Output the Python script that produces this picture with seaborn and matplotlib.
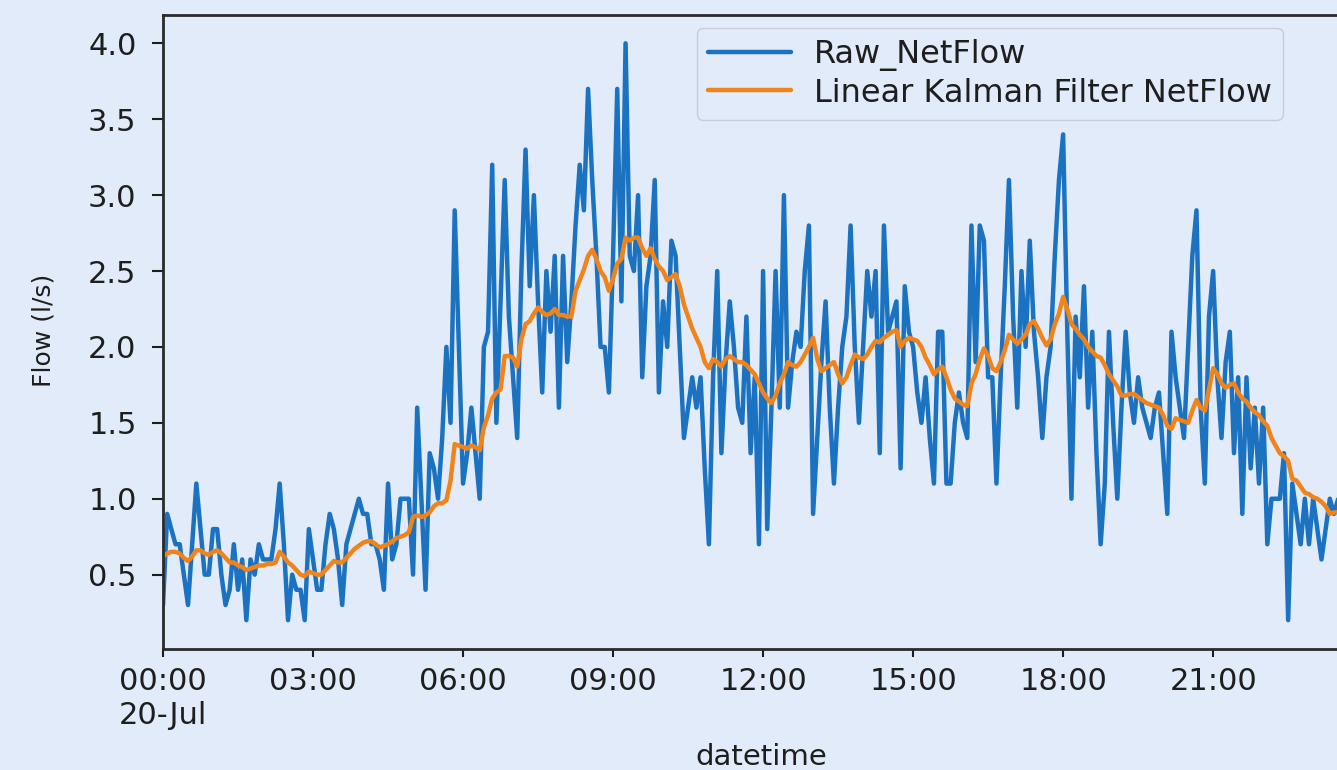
import matplotlib
matplotlib.use("Agg")
import matplotlib.pyplot as plt
import matplotlib.dates as mdates
import matplotlib.ticker as mticker
import numpy as np
import pandas as pd
import seaborn as sns

# ---------------- data (5-minute samples, 20 Jul) ----------------
raw_netflow = [
    0.3, 0.9, 0.8, 0.7, 0.7, 0.5, 0.3, 0.7, 1.1, 0.8, 0.5, 0.5,
    0.8, 0.8, 0.5, 0.3, 0.4, 0.7, 0.4, 0.6, 0.2, 0.6, 0.5, 0.7,
    0.6, 0.6, 0.6, 0.8, 1.1, 0.7, 0.2, 0.5, 0.4, 0.4, 0.2, 0.8,
    0.6, 0.4, 0.4, 0.7, 0.9, 0.8, 0.6, 0.3, 0.7, 0.8, 0.9, 1.0,
    0.9, 0.9, 0.7, 0.7, 0.6, 0.4, 1.1, 0.6, 0.7, 1.0, 1.0, 1.0,
    0.5, 1.6, 1.0, 0.4, 1.3, 1.2, 1.0, 1.4, 2.0, 1.5, 2.9, 2.0,
    1.1, 1.3, 1.6, 1.3, 1.0, 2.0, 2.1, 3.2, 1.5, 2.3, 3.1, 2.2,
    1.8, 1.4, 2.5, 3.3, 2.4, 3.0, 2.3, 1.7, 2.5, 2.1, 2.6, 1.6,
    2.6, 1.9, 2.3, 2.8, 3.2, 2.9, 3.7, 3.1, 2.6, 2.0, 2.0, 1.7,
    2.6, 3.7, 2.3, 4.0, 2.6, 2.5, 3.0, 1.8, 2.4, 2.6, 3.1, 1.7,
    2.3, 2.0, 2.7, 2.6, 2.0, 1.4, 1.6, 1.8, 1.6, 1.8, 1.2, 0.7,
    1.8, 2.5, 1.3, 1.9, 2.3, 2.0, 1.6, 1.5, 2.2, 1.3, 1.8, 0.7,
    2.5, 0.8, 1.6, 2.5, 1.6, 3.0, 1.6, 1.9, 2.1, 2.0, 2.5, 2.8,
    0.9, 1.4, 1.9, 2.3, 1.6, 1.1, 1.6, 2.0, 2.2, 2.8, 2.0, 1.5,
    2.0, 2.5, 2.2, 2.5, 1.3, 2.8, 2.1, 2.2, 2.3, 1.2, 2.4, 2.1,
    2.0, 1.7, 1.5, 1.8, 1.4, 1.1, 2.1, 2.1, 1.1, 1.1, 1.5, 1.7,
    1.5, 1.4, 2.8, 1.9, 2.8, 2.7, 1.8, 1.8, 1.1, 1.8, 2.4, 3.1,
    2.2, 1.6, 2.5, 2.0, 2.7, 2.1, 1.8, 1.4, 1.8, 2.0, 2.6, 3.1,
    3.4, 2.1, 1.0, 2.2, 1.8, 2.4, 1.6, 2.1, 1.3, 0.7, 1.1, 2.1,
    1.5, 1.0, 1.6, 2.1, 1.7, 1.5, 1.8, 1.6, 1.5, 1.4, 1.6, 1.7,
    1.3, 0.9, 2.1, 1.8, 1.6, 1.4, 2.0, 2.6, 2.9, 1.6, 1.1, 2.2,
    2.5, 1.8, 1.4, 1.9, 2.1, 1.3, 1.8, 0.9, 1.8, 1.2, 1.6, 1.1,
    1.6, 0.7, 1.0, 1.0, 1.0, 1.3, 0.2, 1.1, 0.9, 0.7, 1.0, 0.7,
    1.0, 0.8, 0.6, 0.8, 1.0, 0.9, 1.0, 0.9,
]

kalman_netflow = [
    0.62, 0.64, 0.65, 0.65, 0.64, 0.61, 0.59, 0.62, 0.66, 0.66, 0.64, 0.63,
    0.65, 0.66, 0.64, 0.61, 0.58, 0.58, 0.56, 0.55, 0.53, 0.54, 0.55, 0.56,
    0.56, 0.57, 0.57, 0.58, 0.65, 0.62, 0.58, 0.56, 0.53, 0.50, 0.49, 0.52,
    0.51, 0.50, 0.50, 0.53, 0.56, 0.59, 0.58, 0.58, 0.61, 0.64, 0.67, 0.69,
    0.71, 0.72, 0.72, 0.70, 0.68, 0.69, 0.70, 0.72, 0.74, 0.75, 0.76, 0.78,
    0.88, 0.89, 0.88, 0.89, 0.91, 0.95, 0.97, 0.97, 0.99, 1.12, 1.36, 1.35,
    1.34, 1.33, 1.35, 1.34, 1.32, 1.47, 1.55, 1.66, 1.70, 1.72, 1.94, 1.94,
    1.93, 1.87, 2.05, 2.15, 2.17, 2.22, 2.26, 2.23, 2.21, 2.22, 2.25, 2.21,
    2.21, 2.20, 2.20, 2.37, 2.44, 2.51, 2.60, 2.64, 2.58, 2.50, 2.46, 2.37,
    2.45, 2.55, 2.58, 2.72, 2.70, 2.72, 2.72, 2.65, 2.60, 2.65, 2.58, 2.53,
    2.50, 2.44, 2.46, 2.48, 2.40, 2.28, 2.20, 2.12, 2.06, 2.00, 1.90, 1.86,
    1.92, 1.90, 1.87, 1.92, 1.94, 1.92, 1.90, 1.90, 1.88, 1.85, 1.82, 1.76,
    1.70, 1.66, 1.63, 1.68, 1.76, 1.82, 1.90, 1.88, 1.87, 1.90, 1.95, 2.00,
    2.06, 1.92, 1.84, 1.86, 1.88, 1.90, 1.82, 1.76, 1.80, 1.88, 1.95, 1.93,
    1.92, 1.95, 2.00, 2.04, 2.03, 2.06, 2.08, 2.10, 2.11, 2.00, 2.04, 2.06,
    2.05, 2.04, 2.00, 1.93, 1.88, 1.82, 1.85, 1.87, 1.80, 1.72, 1.66, 1.64,
    1.62, 1.61, 1.76, 1.82, 1.92, 1.99, 1.94, 1.86, 1.84, 1.90, 1.98, 2.08,
    2.05, 2.02, 2.05, 2.08, 2.15, 2.17, 2.12, 2.06, 2.01, 2.05, 2.15, 2.22,
    2.33, 2.25, 2.15, 2.12, 2.08, 2.05, 2.00, 1.97, 1.94, 1.93, 1.88, 1.82,
    1.78, 1.74, 1.68, 1.68, 1.69, 1.69, 1.67, 1.65, 1.63, 1.62, 1.61, 1.60,
    1.55, 1.48, 1.46, 1.53, 1.52, 1.51, 1.50, 1.58, 1.65, 1.60, 1.58, 1.72,
    1.86, 1.82, 1.76, 1.73, 1.75, 1.76, 1.70, 1.66, 1.64, 1.60, 1.57, 1.55,
    1.51, 1.48, 1.40, 1.35, 1.30, 1.28, 1.25, 1.13, 1.12, 1.08, 1.04, 1.03,
    1.01, 1.00, 0.98, 0.95, 0.90, 0.91, 0.91, 0.92,
]

series_labels = ["Raw_NetFlow", "Linear Kalman Filter NetFlow"]
y_ticks = [0.5, 1.0, 1.5, 2.0, 2.5, 3.0, 3.5, 4.0]
start_time = "2020-07-20 00:00"
end_time = "2020-07-20 23:55"

times = pd.date_range(start_time, periods=len(raw_netflow), freq="5min")
df = pd.DataFrame({"datetime": times,
                   series_labels[0]: raw_netflow,
                   series_labels[1]: kalman_netflow})

# ---------------- style ----------------
BG = "#e1ebf9"
BLUE = "#1a72c0"
ORANGE = "#f0841a"
TXT = "#1e1e1e"

sns.set_theme(style="ticks")
plt.rcParams["font.family"] = ["DejaVu Sans"]

W, H = 1337, 770
fig = plt.figure(figsize=(W / 100, H / 100), dpi=100, facecolor=BG)
ax_l, ax_r, ax_t, ax_b = 163, 1359, 14.5, 649
ax = fig.add_axes([ax_l / W, (H - ax_b) / H, (ax_r - ax_l) / W, (ax_b - ax_t) / H])
ax.set_facecolor(BG)

sns.lineplot(data=df, x="datetime", y=series_labels[0], ax=ax, color=BLUE,
             linewidth=3.2, label=series_labels[0])
sns.lineplot(data=df, x="datetime", y=series_labels[1], ax=ax, color=ORANGE,
             linewidth=3.2, label=series_labels[1])

ax.set_xlim(pd.Timestamp(start_time), pd.Timestamp(end_time))
ax.set_ylim(0.01, 4.19)
ax.set_yticks(y_ticks)
ax.yaxis.set_major_formatter(mticker.FormatStrFormatter("%.1f"))

ax.xaxis.set_major_locator(mdates.HourLocator(byhour=range(0, 24, 3)))


def fmt_time(x, pos=None):
    d = mdates.num2date(x)
    if d.hour == 0 and d.minute == 0:
        return d.strftime("%H:%M") + "\n" + d.strftime("%d-%b")
    return d.strftime("%H:%M")


ax.xaxis.set_major_formatter(mticker.FuncFormatter(fmt_time))

for s in ax.spines.values():
    s.set_linewidth(2.0)
    s.set_color("#2a2a2a")

ax.tick_params(axis="x", labelsize=22, length=6, width=1.5, pad=7,
               colors=TXT, labelcolor=TXT)
ax.tick_params(axis="y", labelsize=22, length=8, width=1.5, pad=11,
               colors=TXT, labelcolor=TXT)

ax.set_xlabel("datetime", fontsize=21, color=TXT)
ax.set_ylabel("Flow (l/s)", fontsize=18, color=TXT)
ax.xaxis.set_label_coords(0.5, -0.148)
ax.yaxis.set_label_coords(-0.0895, 0.502)

leg = ax.legend(loc="upper left",
                bbox_to_anchor=((697 - ax_l) / (ax_r - ax_l), (ax_b - 28) / (ax_b - ax_t)),
                borderaxespad=0, fontsize=23, frameon=True, handlelength=2.6,
                handletextpad=0.7, labelspacing=0.2, borderpad=0.35, fancybox=True)
leg.get_frame().set_facecolor(BG)
leg.get_frame().set_edgecolor("#c8ccd4")
leg.get_frame().set_alpha(1.0)
for t in leg.get_texts():
    t.set_color(TXT)

fig.savefig("out.png", dpi=100, facecolor=BG)
